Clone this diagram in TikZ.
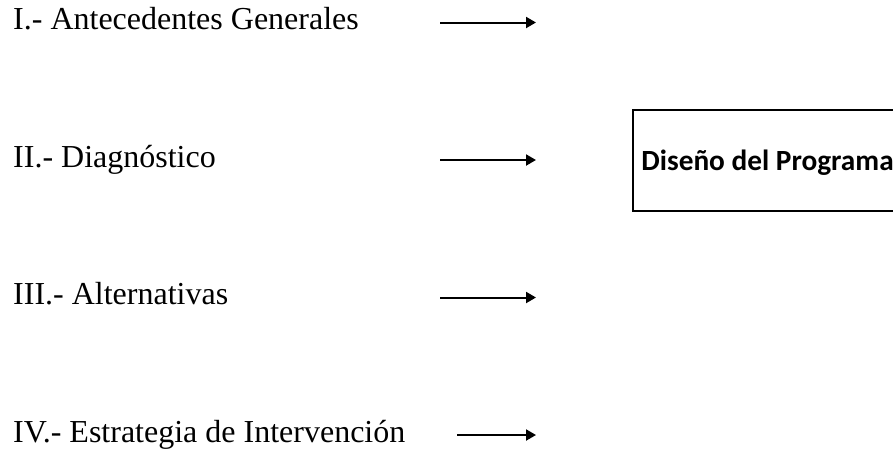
\documentclass[tikz,border=0pt]{standalone}
\usepackage{fontspec}
\usepackage{tikz}
\usetikzlibrary{arrows.meta,positioning}
\newfontfamily\itemfont{Liberation Serif}
\newfontfamily\boxfont{Carlito}

\begin{document}
\begin{tikzpicture}[x=1pt, y=-1pt, node distance=137.5pt, on grid,
	item/.style={font=\itemfont\fontsize{32}{38}\selectfont, inner sep=0pt, anchor=base west},
	prog/.style={draw, line width=1.8pt, inner xsep=8.5pt, inner ysep=0pt,
		text height=60pt, text depth=41pt, font=\boxfont\bfseries\fontsize{29.3}{35}\selectfont},
	flow/.style={line width=2pt, -{Triangle[length=10pt, width=11pt]}}]
	\path[use as bounding box, clip] (0,0) rectangle (893,455);

	\node[item] (antec) at (13,29.5) {I.- Antecedentes Generales};
	\node (diag) [below=of antec.base west, item] {II.- Diagnóstico};
	\node (alt) [below=of diag.base west, item] {III.- Alternativas};
	\node (estr) [below=of alt.base west, item] {IV.- Estrategia de Intervención};

	\node[prog, anchor=base west] (disenio) at (632,170) {Diseño del Programa};

	\foreach \n/\s in {antec/427, diag/427, alt/427, estr/444} {
		\coordinate (\n-from) at ([shift={(\s,-7)}]\n.base west);
		\coordinate (\n-to) at ([shift={(523,-7)}]\n.base west);
		\draw[flow] (\n-from) -- (\n-to);
	}
\end{tikzpicture}
\end{document}
